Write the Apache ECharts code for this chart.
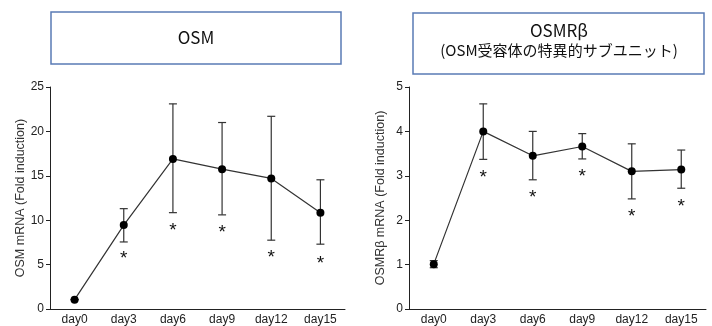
<!DOCTYPE html>
<html>
<head>
<meta charset="utf-8">
<script src="https://cdn.jsdelivr.net/npm/echarts@6/dist/echarts.min.js"></script>
<style>
html, body { margin: 0; padding: 0; background: #fff; }
#chart { width: 712px; height: 326px; }
</style>
</head>
<body>
<div id="chart"></div>
<script>
// 横軸
const days = ["day0", "day3", "day6", "day9", "day12", "day15"];
// OSM (左)
const osmMean = [1.05, 9.45, 16.9, 15.75, 14.7, 10.85];
const osmHigh = [1.05, 11.3, 23.1, 21.0, 21.7, 14.55];
const osmLow = [1.05, 7.55, 10.85, 10.6, 7.75, 7.3];
const osmStar = [null, 6.1, 9.25, 9.0, 6.2, 5.5];
// OSMRβ (右)
const osmrMean = [1.01, 4.0, 3.45, 3.66, 3.1, 3.14];
const osmrHigh = [1.09, 4.62, 4.0, 3.95, 3.72, 3.58];
const osmrLow = [0.93, 3.37, 2.91, 3.38, 2.48, 2.72];
const osmrStar = [null, 3.04, 2.59, 3.07, 2.17, 2.4];

const font = "Liberation Sans";
const chart = echarts.init(document.getElementById("chart"));

// エラーバー
function errorBar(params, api) {
  const i = api.value(0);
  const top = api.coord([i, api.value(2)]);
  const bot = api.coord([i, api.value(1)]);
  const w = 4;
  const s = { stroke: "#333", lineWidth: 1.2 };
  return {
    type: "group",
    children: [
      { type: "line", shape: { x1: top[0], y1: top[1], x2: bot[0], y2: bot[1] }, style: s },
      { type: "line", shape: { x1: top[0] - w, y1: top[1], x2: top[0] + w, y2: top[1] }, style: s },
      { type: "line", shape: { x1: bot[0] - w, y1: bot[1], x2: bot[0] + w, y2: bot[1] }, style: s },
    ],
  };
}

// 有意差の * 印
function star(params, api) {
  const p = api.coord([api.value(0), api.value(1)]);
  return {
    type: "text",
    style: {
      text: "*",
      x: p[0],
      y: p[1] + 4,
      align: "center",
      verticalAlign: "middle",
      font: "19px " + font,
      fill: "#111",
    },
  };
}

function axes(idx, max, interval, name) {
  return {
    x: {
      type: "category",
      gridIndex: idx,
      data: days,
      boundaryGap: true,
      axisLine: { lineStyle: { color: "#222", width: 1 } },
      axisTick: { alignWithLabel: true, length: 3, lineStyle: { color: "#222" } },
      axisLabel: { color: "#222", fontSize: 12, fontFamily: font, margin: 5 },
    },
    y: {
      type: "value",
      gridIndex: idx,
      min: 0,
      max: max,
      interval: interval,
      name: name,
      nameLocation: "middle",
      nameRotate: 90,
      nameGap: 22,
      nameTextStyle: { color: "#333", fontSize: 12.5, fontFamily: font },
      axisLine: { show: true, lineStyle: { color: "#222", width: 1 } },
      axisTick: { show: true, length: 4, lineStyle: { color: "#222" } },
      axisLabel: { color: "#222", fontSize: 12, fontFamily: font, margin: 6 },
      splitLine: { show: false },
    },
  };
}

const a0 = axes(0, 25, 5, "OSM mRNA (Fold induction)");
const a1 = axes(1, 5, 1, "OSMRβ mRNA (Fold induction)");

function seriesFor(idx, mean, low, high, stars) {
  return [
    {
      type: "custom",
      xAxisIndex: idx,
      yAxisIndex: idx,
      renderItem: errorBar,
      data: days.map((d, i) => [i, low[i], high[i]]),
      encode: { x: 0, y: [1, 2] },
      z: 1,
      silent: true,
    },
    {
      type: "line",
      xAxisIndex: idx,
      yAxisIndex: idx,
      data: mean,
      symbol: "circle",
      symbolSize: 8,
      lineStyle: { color: "#333", width: 1.2 },
      itemStyle: { color: "#000", borderWidth: 0 },
      z: 3,
    },
    {
      type: "custom",
      xAxisIndex: idx,
      yAxisIndex: idx,
      renderItem: star,
      data: days.map((d, i) => [i, stars[i]]).filter((p) => p[1] !== null),
      encode: { x: 0, y: 1 },
      z: 2,
      silent: true,
    },
  ];
}

chart.setOption({
  animation: false,
  grid: [
    { left: 50, top: 87, width: 295, height: 222 },
    { left: 409, top: 87, width: 297, height: 222 },
  ],
  xAxis: [a0.x, a1.x],
  yAxis: [a0.y, a1.y],
  graphic: [
    {
      type: "rect",
      shape: { x: 51, y: 12, width: 290, height: 52 },
      style: { fill: "#fff", stroke: "#5a7bb5", lineWidth: 1.5 },
    },
    {
      type: "text",
      x: 196,
      y: 38,
      style: { text: "OSM", font: "17px 'Noto Sans CJK JP'", fill: "#111", align: "center", verticalAlign: "middle" },
    },
    {
      type: "rect",
      shape: { x: 413, y: 13, width: 291, height: 61 },
      style: { fill: "#fff", stroke: "#5a7bb5", lineWidth: 1.5 },
    },
    {
      type: "text",
      x: 559,
      y: 31,
      style: { text: "OSMRβ", font: "17px 'Noto Sans CJK JP'", fill: "#111", align: "center", verticalAlign: "middle" },
    },
    {
      type: "text",
      x: 559,
      y: 50,
      style: { text: "(OSM受容体の特異的サブユニット)", font: "15px 'Noto Sans CJK JP'", fill: "#111", align: "center", verticalAlign: "middle" },
    },
  ],
  series: [
    ...seriesFor(0, osmMean, osmLow, osmHigh, osmStar),
    ...seriesFor(1, osmrMean, osmrLow, osmrHigh, osmrStar),
  ],
});
</script>
</body>
</html>
